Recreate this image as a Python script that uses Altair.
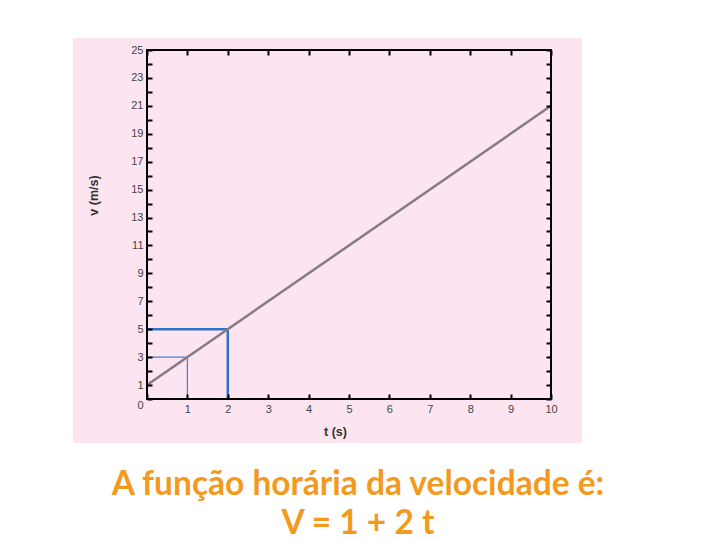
import altair as alt
import pandas as pd

# v = 1 + 2t, the straight line on the chart
t_vals = [0, 10]
v_vals = [1, 21]

# blue guide lines (t=1 -> v=3, t=2 -> v=5)
guide_t = [1, 2]
guide_v = [3, 5]

x_ticks = list(range(0, 11))
y_ticks = list(range(0, 26))

caption_lines = ["A função horária da velocidade é:", "V = 1 + 2 t"]

# layout / styles
W, H = 404, 349
PINK = "#fce4f0"
ORANGE = "#f39a1e"
LABEL_FONT = "Liberation Sans"
guide_styles = [
    dict(color="#3f82d2", strokeWidth=1.2),
    dict(color="#2f74c3", strokeWidth=2.5),
]

line_df = pd.DataFrame({"t": t_vals, "v": v_vals})
one_row = pd.DataFrame({"k": [0]})

x_scale = alt.Scale(domain=[0, 10], nice=False, zero=False)
y_scale = alt.Scale(domain=[0, 25], nice=False, zero=False)

# inward ticks: axis pushed 5px inside, ticks point back to the frame
tick_style = dict(domain=False, grid=False, tickSize=5, tickWidth=2,
                  tickColor="black", offset=-5, zindex=2)
label_style = dict(labelFont=LABEL_FONT, labelFontSize=11, labelColor="#444",
                   labelPadding=4, labelOverlap=False,
                   titleFont=LABEL_FONT, titleFontSize=12.5, titleFontWeight="bold",
                   titleColor="#333", titleAlign="center", titleBaseline="middle")

bottom_axis = alt.Axis(orient="bottom", values=x_ticks, labelFlush=False,
                       labelExpr="datum.value == 0 ? '' : datum.label",
                       title="t (s)", titleX=188, titleY=37,
                       **tick_style, **label_style)
left_axis = alt.Axis(orient="left", values=y_ticks, labelFlush=False,
                     labelExpr="datum.value % 2 == 1 || datum.value == 0 ? datum.label : ''",
                     labelBaseline={"condition": {"test": "datum.value == 0", "value": "top"},
                                    "value": "middle"},
                     title="v (m/s)", titleAngle=-90, titleX=-59, titleY=145,
                     **tick_style, **label_style)
top_axis = alt.Axis(orient="top", values=x_ticks, labels=False, title=None, **tick_style)
right_axis = alt.Axis(orient="right", values=y_ticks, labels=False, title=None, **tick_style)

background = alt.Chart(one_row).mark_rect(color=PINK).encode(
    x=alt.value(-74), x2=alt.value(435), y=alt.value(-12), y2=alt.value(393)
)

frame = alt.Chart(one_row).mark_rect(fillOpacity=0, stroke="black", strokeWidth=2).encode(
    x=alt.value(0), x2=alt.value(W), y=alt.value(0), y2=alt.value(H)
)

velocity = alt.Chart(line_df).mark_line(color="#857b87", strokeWidth=2.5).encode(
    x=alt.X("t:Q", scale=x_scale, axis=bottom_axis),
    y=alt.Y("v:Q", scale=y_scale, axis=left_axis),
)

guides = []
for i, (gt, gv) in enumerate(zip(guide_t, guide_v)):
    gdf = pd.DataFrame({"t": [gt], "v": [gv], "zero": [0]})
    style = guide_styles[i]
    xa = top_axis if i == 0 else None
    ya = right_axis if i == 0 else None
    horiz = alt.Chart(gdf).mark_rule(**style).encode(
        x=alt.X("zero:Q", scale=x_scale, axis=xa),
        x2="t:Q",
        y=alt.Y("v:Q", scale=y_scale, axis=ya),
    )
    vert = alt.Chart(gdf).mark_rule(**style).encode(
        x=alt.X("t:Q", scale=x_scale, axis=None),
        y=alt.Y("zero:Q", scale=y_scale, axis=None),
        y2="v:Q",
    )
    guides += [horiz, vert]

caption = alt.Chart(pd.DataFrame({"text": ["\n".join(caption_lines)]})).mark_text(
    lineBreak="\n", lineHeight=39, font="Lato", fontSize=33.5, fontWeight="bold",
    color=ORANGE, align="center", baseline="alphabetic"
).encode(text="text:N", x=alt.value(211), y=alt.value(445))

chart = alt.layer(background, *guides, velocity, frame, caption).resolve_axis(
    x="independent", y="independent"
).properties(
    width=W, height=H,
    autosize=alt.AutoSizeParams(type="none"),
    padding={"left": 139, "top": 42, "right": 161, "bottom": 141},
).configure_view(stroke=None)

chart.save("out.html", embed_options={"renderer": "svg", "actions": False})
